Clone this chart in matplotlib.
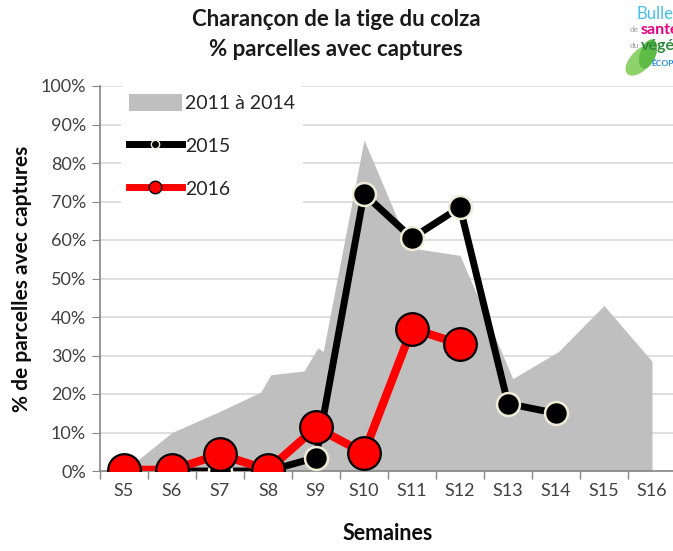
import matplotlib
matplotlib.use("Agg")
import matplotlib.pyplot as plt
from matplotlib.patches import Ellipse, Patch
from matplotlib.lines import Line2D

plt.rcParams['font.family'] = ['Lato', 'DejaVu Sans']

weeks = ["S5", "S6", "S7", "S8", "S9", "S10", "S11", "S12", "S13", "S14", "S15", "S16"]

# 2011 à 2014 envelope (positions in week index units, values in %)
grey_x = [0, 1, 2, 2.85, 3.06, 3.75, 4.04, 4.15, 5, 5.95, 7, 8.1, 9.05, 10, 11]
grey_y = [0, 10, 15.5, 20.5, 25, 26, 32, 31, 86, 58, 56, 24, 31, 43, 28.5]

y2015 = [0, 0, 0, 0, 3.5, 72, 60.5, 68.5, 17.5, 15]
y2016 = [0.3, 0.3, 4.3, 0.3, 11.3, 4.7, 37, 33]

yticks = list(range(0, 101, 10))

fig = plt.figure(figsize=(6.73, 5.51), dpi=100)
ax = fig.add_axes([100/673, 1-471/551, 576/673, (471-86)/551])

ax.fill_between(grey_x, grey_y, 0, color='#BFBFBF', linewidth=0, label='2011 à 2014', zorder=1)
ax.plot(range(len(y2015)), y2015, color='black', lw=5, marker='o', ms=16.5,
        mfc='black', mec='#EEEBD8', mew=1.8, label='2015', zorder=3, solid_capstyle='round')
ax.plot(range(len(y2016)), y2016, color='#FF0000', lw=6, marker='o', ms=23.5,
        mfc='#FF0000', mec='black', mew=1.6, label='2016', zorder=4, solid_capstyle='round')

ax.set_xlim(-0.5, 11.5)
ax.set_ylim(0, 100)
ax.set_yticks(yticks)
ax.set_yticklabels([f"{v}%" for v in yticks])
ax.set_xticks(range(len(weeks)))
ax.set_xticklabels(weeks)
ax.set_xticks([k - 0.5 for k in range(len(weeks) + 1)], minor=True)
ax.tick_params(axis='x', which='major', length=0, pad=9, labelsize=13)
ax.tick_params(axis='x', which='minor', length=6, color='#868686', width=1)
ax.tick_params(axis='y', length=6, color='#868686', labelsize=13, pad=4)
for lbl in ax.get_xticklabels() + ax.get_yticklabels():
    lbl.set_color('#404040')

ax.grid(axis='y', color='#D9D9D9', lw=1.2, zorder=0)
ax.set_axisbelow(True)
for s in ['top', 'right']:
    ax.spines[s].set_visible(False)
for s in ['left', 'bottom']:
    ax.spines[s].set_color('#868686')
    ax.spines[s].set_linewidth(1.2)

ax.set_ylabel("% de parcelles avec captures", fontsize=15, fontweight='bold', labelpad=6, color='#0d0d0d')
ax.set_xlabel("Semaines", fontsize=15.5, fontweight='bold', labelpad=17, color='#0d0d0d')

# legend
handles = [Patch(facecolor='#BFBFBF', edgecolor='none'),
           Line2D([], [], color='black', lw=5, marker='o', ms=6, mfc='black', mec='#EEEBD8', mew=1),
           Line2D([], [], color='#FF0000', lw=5, marker='o', ms=9, mfc='#FF0000', mec='black', mew=1)]
leg = ax.legend(handles, ['2011 à 2014', '2015', '2016'], loc='upper left',
                bbox_to_anchor=(0.02, 1.025), frameon=True, fontsize=14,
                handlelength=2.7, handleheight=1.0, labelspacing=1.25, handletextpad=0.2,
                borderpad=0.4, facecolor='white', edgecolor='none', framealpha=1)
for t in leg.get_texts():
    t.set_color('#262626')

fig.text(336/673, 1-20/551, "Charançon de la tige du colza", ha='center', va='center',
         fontsize=16, fontweight='bold', color='#1a1a1a')
fig.text(336/673, 1-50/551, "% parcelles avec captures", ha='center', va='center',
         fontsize=16, fontweight='bold', color='#1a1a1a')

# logo (partially visible at top right)
leaf = Ellipse((641/673, 1-60/551), 22/673, 36/551, angle=-35, transform=fig.transFigure,
               facecolor='#8ED26B', edgecolor='none', zorder=0)
leaf2 = Ellipse((648/673, 1-54/551), 16/673, 30/551, angle=-15, transform=fig.transFigure,
                facecolor='#5DBB46', edgecolor='none', zorder=0)
fig.patches.extend([leaf, leaf2])
fig.text(636/673, 1-14/551, "Bulletin", fontsize=12, color='#42C0F0', ha='left', va='center')
fig.text(630/673, 1-30/551, "de", fontsize=6, color='#9a9a9a', ha='left', va='center')
fig.text(641/673, 1-30/551, "santé", fontsize=11.5, color='#E6007E', fontweight='bold', ha='left', va='center')
fig.text(630/673, 1-46/551, "du", fontsize=6, color='#9a9a9a', ha='left', va='center')
fig.text(641/673, 1-46/551, "végétal", fontsize=11.5, color='#2E8B3A', fontweight='bold', ha='left', va='center')
fig.text(651/673, 1-63/551, "ÉCOPHYTO", fontsize=6, color='#1E88E5', fontweight='bold', ha='left', va='center')

fig.savefig("out.png", dpi=100)
